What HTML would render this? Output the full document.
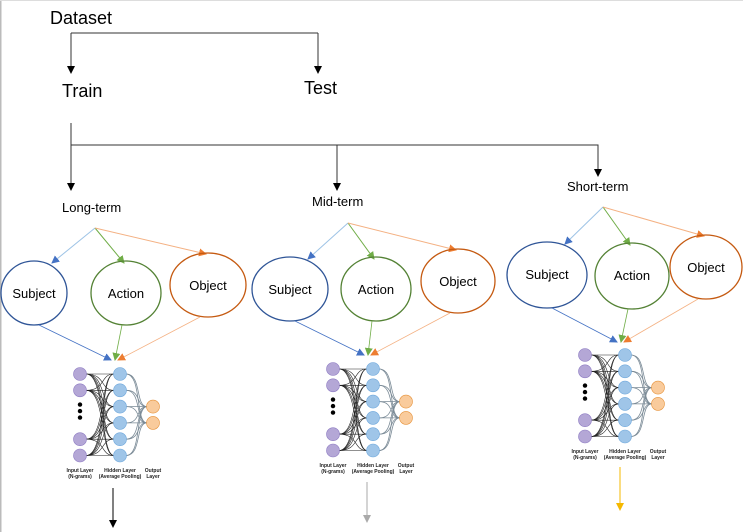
<!DOCTYPE html>
<html><head><meta charset="utf-8"><style>
body{margin:0;background:#fff}
svg{display:block;font-family:"Liberation Sans",sans-serif}
</style></head><body>
<svg id="s" width="743" height="532" viewBox="0 0 743 532" xmlns="http://www.w3.org/2000/svg">
<defs>
<marker id="ak" markerWidth="8" markerHeight="8" refX="7" refY="4" orient="auto" markerUnits="userSpaceOnUse"><path d="M0,0 L8,4 L0,8z" fill="#000"/></marker>
<marker id="ag" markerWidth="8" markerHeight="8" refX="7" refY="4" orient="auto" markerUnits="userSpaceOnUse"><path d="M0,0 L8,4 L0,8z" fill="#aaa"/></marker>
<marker id="ay" markerWidth="8" markerHeight="8" refX="7" refY="4" orient="auto" markerUnits="userSpaceOnUse"><path d="M0,0 L8,4 L0,8z" fill="#f5b800"/></marker>
<marker id="ab" markerWidth="8" markerHeight="8" refX="7" refY="4" orient="auto" markerUnits="userSpaceOnUse"><path d="M0,0 L8,4 L0,8z" fill="#4472c4"/></marker>
<marker id="agr" markerWidth="8" markerHeight="8" refX="7" refY="4" orient="auto" markerUnits="userSpaceOnUse"><path d="M0,0 L8,4 L0,8z" fill="#70ad47"/></marker>
<marker id="ao" markerWidth="8" markerHeight="8" refX="7" refY="4" orient="auto" markerUnits="userSpaceOnUse"><path d="M0,0 L8,4 L0,8z" fill="#ed7d31"/></marker>
</defs>
<line x1="0.5" y1="0" x2="0.5" y2="532" stroke="#bbb" stroke-width="2"/>
<line x1="0" y1="0.5" x2="743" y2="0.5" stroke="#ddd"/>
<g stroke="#333" fill="none" stroke-width="1">
<path d="M71,33 H318"/>
<path d="M71,33 V73" marker-end="url(#ak)"/>
<path d="M318,33 V73" marker-end="url(#ak)"/>
<path d="M71,123 V190" marker-end="url(#ak)"/>
<path d="M71,145 H598 V176" marker-end="url(#ak)"/>
<path d="M337,145 V190" marker-end="url(#ak)"/>
<line x1="113" y1="488" x2="113" y2="527" stroke="#000" marker-end="url(#ak)"/>
<line x1="367" y1="482" x2="367" y2="522" stroke="#aaa" marker-end="url(#ag)"/>
<line x1="620" y1="467" x2="620" y2="510" stroke="#f5b800" marker-end="url(#ay)"/>
</g>
<g fill="#000" font-size="18">
<text x="50" y="24">Dataset</text>
<text x="62" y="97">Train</text>
<text x="304" y="94">Test</text>
</g>
<g font-size="13">
<text x="62" y="212">Long-term</text>
<text x="312" y="206">Mid-term</text>
<text x="567" y="191">Short-term</text>
</g>
<g font-size="13" text-anchor="middle">
<text x="34" y="298">Subject</text><text x="126" y="298">Action</text><text x="208" y="290">Object</text>
<text x="290" y="294">Subject</text><text x="376" y="294">Action</text><text x="458" y="286">Object</text>
<text x="547" y="279">Subject</text><text x="632" y="280">Action</text><text x="706" y="272">Object</text>
</g>
<g font-size="5" font-weight="bold" text-anchor="middle" fill="#222">
<text x="80" y="472">Input Layer</text><text x="80" y="478">(N-grams)</text>
<text x="120" y="472">Hidden Layer</text><text x="120" y="478">(Average Pooling)</text>
<text x="153" y="472">Output</text><text x="153" y="478">Layer</text>
<text x="333" y="467">Input Layer</text><text x="333" y="473">(N-grams)</text>
<text x="373" y="467">Hidden Layer</text><text x="373" y="473">(Average Pooling)</text>
<text x="406" y="467">Output</text><text x="406" y="473">Layer</text>
<text x="585" y="453">Input Layer</text><text x="585" y="459">(N-grams)</text>
<text x="625" y="453">Hidden Layer</text><text x="625" y="459">(Average Pooling)</text>
<text x="658" y="453">Output</text><text x="658" y="459">Layer</text>
</g>
<g id="gen"></g>
</svg>
<script>
const NS="http://www.w3.org/2000/svg",G=document.getElementById("gen");
function el(t,a){const e=document.createElementNS(NS,t);for(const k in a)e.setAttribute(k,a[k]);G.appendChild(e);return e;}
const units=[
 {src:[95,228],S:[34,293,33,32],A:[126,293,35,32],O:[208,285,38,32],nn:[80,374],tg:[113,360]},
 {src:[348,223],S:[290,289,38,32],A:[376,289,35,32],O:[458,281,37,32],nn:[333,369],tg:[366,355]},
 {src:[603,207],S:[547,275,40,33],A:[632,276,37,33],O:[706,267,36,32],nn:[585,355],tg:[619,342]}];
for(const u of units){
 const [sx,sy]=u.src;
 el("line",{x1:sx,y1:sy,x2:u.S[0]+18,y2:u.S[1]-u.S[3]+2,stroke:"#9dc3e6","marker-end":"url(#ab)"});
 el("line",{x1:sx,y1:sy,x2:u.A[0]-2,y2:u.A[1]-u.A[3]+2,stroke:"#70ad47","marker-end":"url(#agr)"});
 el("line",{x1:sx,y1:sy,x2:u.O[0]-2,y2:u.O[1]-u.O[3]+1,stroke:"#f4b183","marker-end":"url(#ao)"});
 el("ellipse",{cx:u.S[0],cy:u.S[1],rx:u.S[2],ry:u.S[3],fill:"none",stroke:"#2f5597","stroke-width":1.3});
 el("ellipse",{cx:u.A[0],cy:u.A[1],rx:u.A[2],ry:u.A[3],fill:"none",stroke:"#548235","stroke-width":1.3});
 el("ellipse",{cx:u.O[0],cy:u.O[1],rx:u.O[2],ry:u.O[3],fill:"none",stroke:"#c55a11","stroke-width":1.3});
 const [tx,ty]=u.tg;
 el("line",{x1:u.S[0]+5,y1:u.S[1]+u.S[3],x2:tx-2,y2:ty,stroke:"#4472c4","stroke-width":0.8,"marker-end":"url(#ab)"});
 el("line",{x1:u.A[0]-4,y1:u.A[1]+u.A[3],x2:tx+2,y2:ty,stroke:"#70ad47","stroke-width":0.8,"marker-end":"url(#agr)"});
 el("line",{x1:u.O[0]-8,y1:u.O[1]+u.O[3],x2:tx+5,y2:ty,stroke:"#f4b183","stroke-width":0.8,"marker-end":"url(#ao)"});
 const [ix,iy]=u.nn,hx=ix+40,ox=ix+73,d=16.3;
 const ins=[0,1,4,5].map(i=>iy+i*d),hs=[0,1,2,3,4,5].map(i=>iy+i*d),os=[iy+2*d,iy+3*d];
 for(const a of ins)for(const b of hs)el("path",{d:`M${ix+6},${a} C${ix+26},${a} ${hx-20},${b} ${hx-6},${b}`,fill:"none",stroke:"#222","stroke-width":0.6});
 for(const a of hs)for(const b of os)el("path",{d:`M${hx+6},${a} C${hx+22},${a} ${ox-18},${b} ${ox-6},${b}`,fill:"none",stroke:"#7a8a96","stroke-width":0.8});
 for(const a of ins)el("circle",{cx:ix,cy:a,r:6.5,fill:"#b4a7d6",stroke:"#8e7cc3","stroke-width":0.6});
 for(const a of hs)el("circle",{cx:hx,cy:a,r:6.5,fill:"#9fc5e8",stroke:"#6fa8dc","stroke-width":0.6});
 for(const a of os)el("circle",{cx:ox,cy:a,r:6.5,fill:"#f9cb9c",stroke:"#e69138","stroke-width":0.6});
 for(let k=0;k<3;k++)el("circle",{cx:ix,cy:iy+2*d-2+k*6.5,r:2.2,fill:"#000"});
}
</script>
</body></html>
